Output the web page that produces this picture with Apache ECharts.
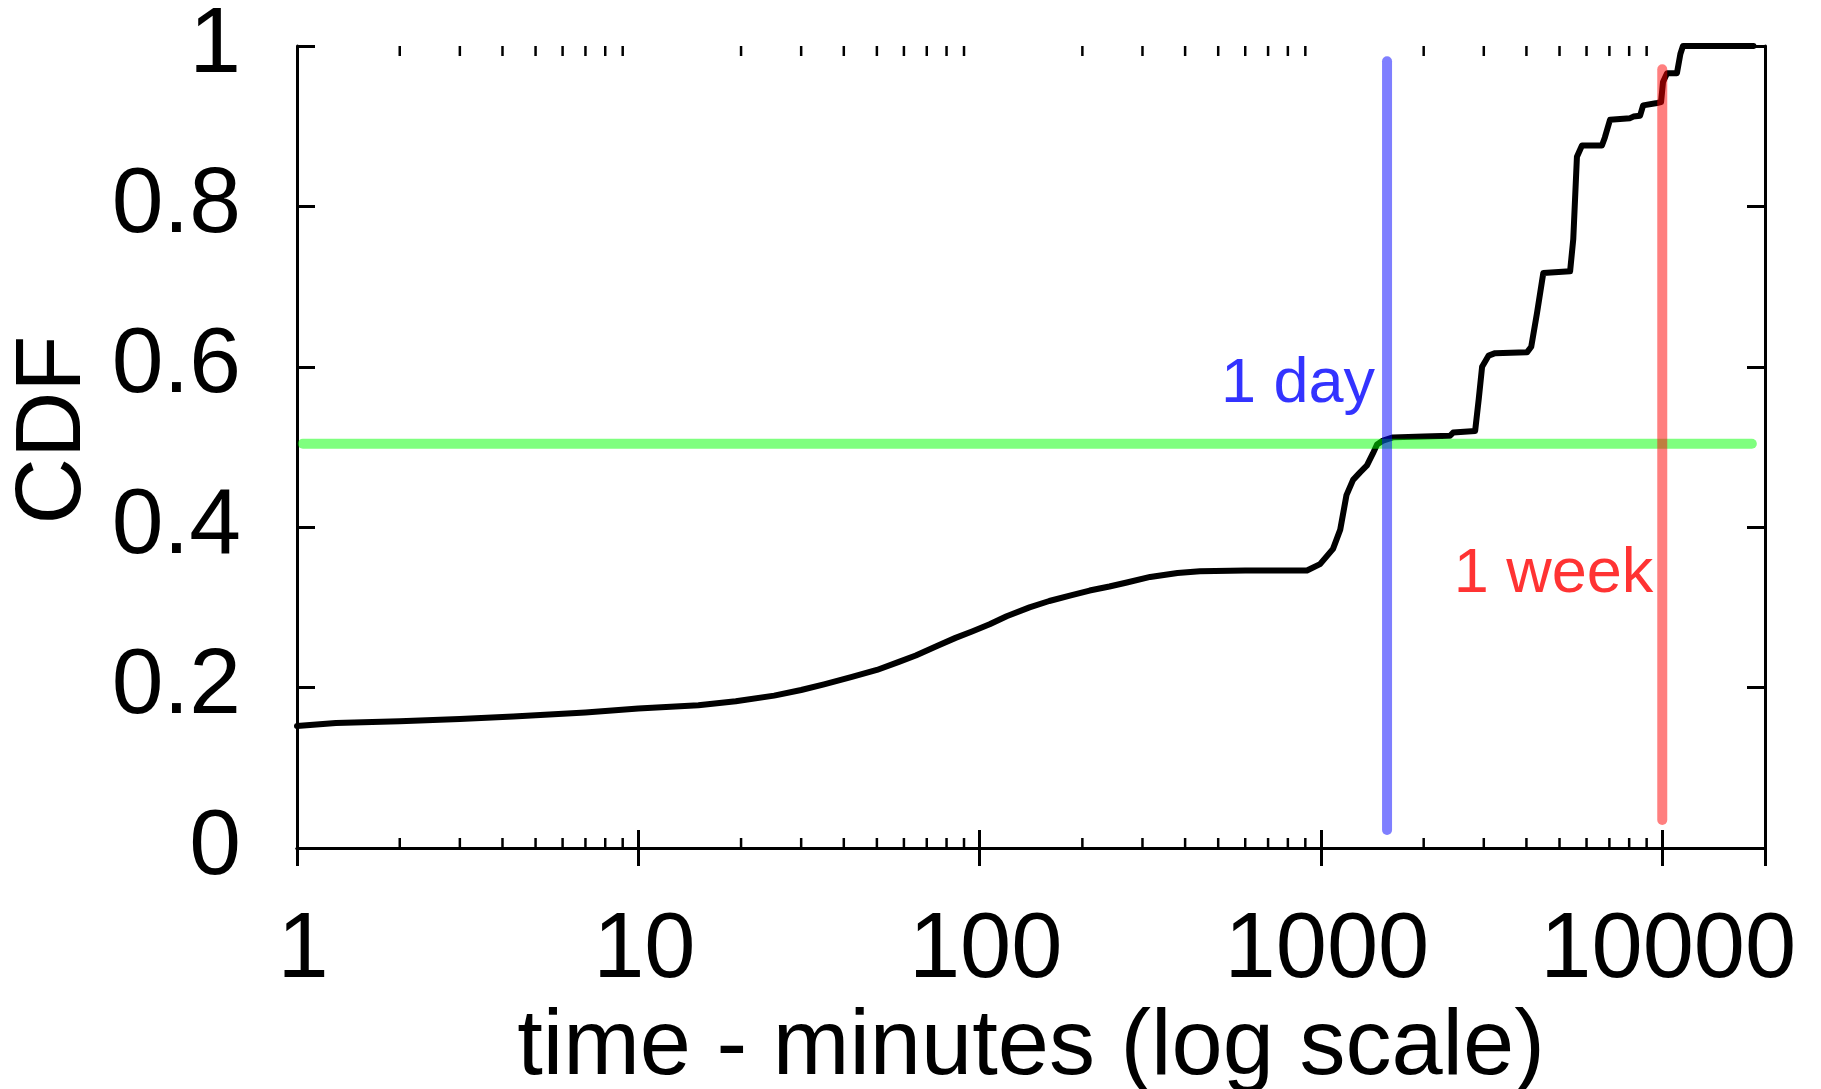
<!DOCTYPE html>
<html><head><meta charset="utf-8">
<script src="https://cdn.jsdelivr.net/npm/echarts@6/dist/echarts.min.js"></script>
<style>html,body{margin:0;padding:0;background:#fff}#c{width:1821px;height:1089px}</style>
</head><body><div id="c"></div>
<script>
// --- data ---
const timeMinutes = [1,1.3,2,3,4.3,7,10,15,19.3,25,30,35,42,50,58,65,75,85,95,107,120,140,160,185,210,240,270,316,380,442,600,910,994,1085,1139,1188,1242,1300,1364,1420,1460,1520,1626,2000,2389,2440,2830,2900,2966,3100,3238,4015,4132,4296,4482,5370,5486,5624,5818,6657,6790,7030,8050,8230,8610,8790,9660,9920,10050,10330,11040,11300,11500,18500];
const cdfValues   = [0.152,0.156,0.158,0.161,0.164,0.169,0.174,0.178,0.183,0.190,0.197,0.204,0.213,0.222,0.232,0.240,0.252,0.262,0.270,0.279,0.289,0.300,0.308,0.315,0.321,0.326,0.331,0.338,0.343,0.345,0.346,0.346,0.354,0.373,0.397,0.440,0.459,0.468,0.477,0.492,0.503,0.508,0.512,0.513,0.514,0.518,0.520,0.560,0.600,0.614,0.617,0.618,0.625,0.667,0.717,0.719,0.759,0.862,0.876,0.876,0.886,0.908,0.910,0.912,0.913,0.926,0.929,0.930,0.955,0.966,0.966,0.990,1.0,1.0];
const medianLine = {x: [1.04, 18300], y: 0.504};
const dayLine = {x: 1562, y: [0.0225, 0.981], label: '1 day', labelY: 0.578};
const weekLine = {x: 10000, y: [0.035, 0.971], label: '1 week', labelY: 0.341};
const xTickLabels = ['1','10','100','1000','10000'];
const yTickLabels = ['0','0.2','0.4','0.6','0.8','1'];
const minorTickValues = [];
[1,10,100,1000,10000].forEach(d => { for (let k = 2; k <= 9; k++) { if (k*d < 20000) minorTickValues.push(k*d); } });

const FONT = "'Liberation Sans', Arial, Helvetica, sans-serif";
const chart = echarts.init(document.getElementById('c'), null, {renderer: 'canvas'});

const axisX = (pos, showLabel) => ({
  type: 'log', logBase: 10, min: 1, max: 20000, position: pos, gridIndex: 0,
  name: showLabel ? 'time - minutes (log scale)' : '',
  nameLocation: 'middle', nameGap: 153,
  nameTextStyle: {fontSize: 92, lineHeight: 92, color: '#000', fontFamily: FONT},
  axisLine: {show: true, lineStyle: {color: '#000', width: 3}},
  axisTick: {show: true, inside: true, length: 18, lineStyle: {color: '#000', width: 3}},
  minorTick: {show: false},
  splitLine: {show: false},
  axisLabel: {
    show: showLabel, fontSize: 92, lineHeight: 92, margin: 58, color: '#000', fontFamily: FONT,
    showMaxLabel: false, padding: [0, 0, 0, 12],
    formatter: v => { const s = String(Math.round(v)); return xTickLabels.includes(s) ? s : ''; }
  }
});
const axisY = (pos, showLabel) => ({
  type: 'value', min: 0, max: 1, interval: 0.2, position: pos, gridIndex: 0,
  name: showLabel ? 'CDF' : '',
  nameLocation: 'middle', nameGap: 194,
  nameTextStyle: {fontSize: 92, lineHeight: 92, color: '#000', fontFamily: FONT, padding: [0, 0, 0, 34]},
  axisLine: {show: true, lineStyle: {color: '#000', width: 3}},
  axisTick: {show: true, inside: true, length: 18, lineStyle: {color: '#000', width: 3}},
  splitLine: {show: false},
  axisLabel: {
    show: showLabel, fontSize: 93, lineHeight: 93, margin: 56, color: '#000', fontFamily: FONT,
    formatter: v => { const i = Math.round(v * 5); return yTickLabels[i] !== undefined ? yTickLabels[i] : ''; }
  }
});

const option = {
  animation: false,
  textStyle: {fontFamily: FONT},
  grid: {left: 297, right: 56, top: 46, bottom: 241, containLabel: false, outerBoundsMode: 'none'},
  xAxis: [axisX('bottom', true), axisX('top', false)],
  yAxis: [axisY('left', true), axisY('right', false)],
  series: [
    {
      type: 'custom', xAxisIndex: 0, yAxisIndex: 0, silent: true,
      data: minorTickValues.map(v => [v, 0]),
      renderItem: (params, api) => {
        const b = api.coord([api.value(0), 0]);
        const t = api.coord([api.value(0), 1]);
        return {type: 'group', children: [
          {type: 'line', shape: {x1: b[0], y1: b[1], x2: b[0], y2: b[1] - 10}, style: {stroke: '#000', lineWidth: 2.5}},
          {type: 'line', shape: {x1: t[0], y1: t[1], x2: t[0], y2: t[1] + 10}, style: {stroke: '#000', lineWidth: 2.5}}
        ]};
      }
    },
    {
      type: 'line', showSymbol: false, silent: true,
      data: timeMinutes.map((x, i) => [x, cdfValues[i]]),
      lineStyle: {color: '#000', width: 6, join: 'round', cap: 'round'}
    },
    {
      type: 'line', showSymbol: false, silent: true,
      data: medianLine.x.map(x => [x, medianLine.y]),
      lineStyle: {color: 'rgba(0,255,0,0.5)', width: 10, cap: 'round'}
    },
    {
      type: 'line', showSymbol: false, silent: true,
      data: dayLine.y.map(y => [dayLine.x, y]),
      lineStyle: {color: 'rgba(0,0,255,0.5)', width: 10, cap: 'round'}
    },
    {
      type: 'line', showSymbol: false, silent: true,
      data: weekLine.y.map(y => [weekLine.x, y]),
      lineStyle: {color: 'rgba(255,0,0,0.5)', width: 10, cap: 'round'}
    },
    {
      type: 'scatter', symbolSize: 0, silent: true,
      data: [
        {value: [dayLine.x, dayLine.labelY], label: {formatter: dayLine.label, color: '#0000ff', distance: 12}},
        {value: [weekLine.x, weekLine.labelY], label: {formatter: weekLine.label, color: '#ff0000', distance: 9}}
      ],
      label: {show: true, position: 'left', fontSize: 63, fontFamily: FONT}
    }
  ]
};
chart.setOption(option);
</script>
</body></html>
